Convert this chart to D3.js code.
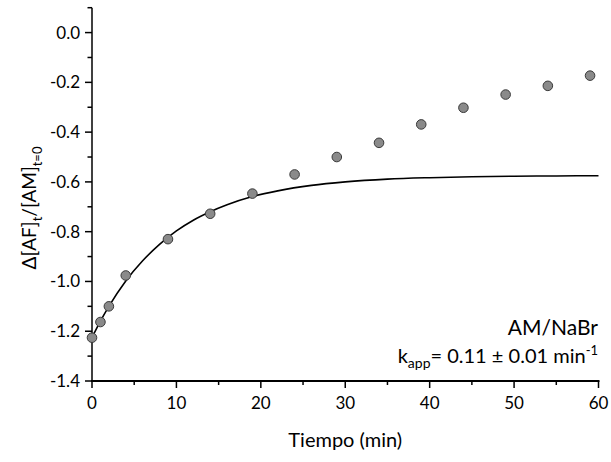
<!DOCTYPE html>
<html><head><meta charset="utf-8">
<script src="https://cdn.jsdelivr.net/npm/d3@7"></script>
<style>body{margin:0;background:#fff}svg{display:block}text{font-family:Lato,"Open Sans",sans-serif;fill:#000}</style>
</head><body><svg id="c" width="611" height="462"></svg>
<script>
// measured data points
const times = [0, 1, 2, 4, 9, 14, 19, 24, 29, 34, 39, 44, 49, 54, 59];
const values = [-1.226, -1.163, -1.100, -0.976, -0.830, -0.728, -0.647, -0.570, -0.500, -0.443, -0.369, -0.302, -0.249, -0.214, -0.173];
// fitted curve
const fitTimes = [0, 1, 2, 4, 6, 8, 10, 12, 14, 16, 19, 22, 26, 30, 35, 40, 45, 50, 55, 60];
const fitValues = [-1.225, -1.159, -1.100, -0.998, -0.917, -0.851, -0.797, -0.754, -0.720, -0.692, -0.659, -0.636, -0.614, -0.600, -0.589, -0.583, -0.579, -0.577, -0.576, -0.575];
const xTicks = [0, 10, 20, 30, 40, 50, 60];
const yTicks = [0.0, -0.2, -0.4, -0.6, -0.8, -1.0, -1.2, -1.4];
const seriesLabel = "AM/NaBr";

const svg = d3.select("#c");
const x = d3.scaleLinear().domain([0, 60]).range([92, 598.5]);
const y = d3.scaleLinear().domain([-1.4, 0.1]).range([381, 7.7]);

// minor ticks
const xMinor = d3.range(5, 60, 10);
const yMinor = d3.range(-13, 2, 2).map(v => v / 10);

const gx = svg.append("g").attr("transform", `translate(0,${y(-1.4)})`);
gx.append("line").attr("x1", x(0) - 1).attr("x2", x(60) + 1).attr("stroke", "#000").attr("stroke-width", 2);
gx.selectAll(".maj").data(xTicks).join("line").attr("x1", d => x(d)).attr("x2", d => x(d)).attr("y1", 0).attr("y2", 7).attr("stroke", "#000").attr("stroke-width", 1.5);
gx.selectAll(".min").data(xMinor).join("line").attr("class","min").attr("x1", d => x(d)).attr("x2", d => x(d)).attr("y1", 0).attr("y2", 4).attr("stroke", "#000").attr("stroke-width", 1.5);
gx.selectAll(".lab").data(xTicks).join("text").attr("class","lab").attr("x", d => x(d)).attr("y", 28).attr("text-anchor", "middle").attr("font-size", 17).text(d => d);

const gy = svg.append("g").attr("transform", `translate(${x(0)},0)`);
gy.append("line").attr("y1", y(0.1)).attr("y2", y(-1.4)).attr("stroke", "#000").attr("stroke-width", 1.5);
gy.selectAll(".maj").data(yTicks).join("line").attr("class","maj").attr("y1", d => y(d)).attr("y2", d => y(d)).attr("x1", 0).attr("x2", -7).attr("stroke", "#000").attr("stroke-width", 1.5);
gy.selectAll(".min").data(yMinor).join("line").attr("class","min").attr("y1", d => y(d)).attr("y2", d => y(d)).attr("x1", 0).attr("x2", -4.5).attr("stroke", "#000").attr("stroke-width", 1.5);
gy.selectAll(".lab").data(yTicks).join("text").attr("class","lab").attr("x", -12).attr("y", d => y(d)).attr("dy", "0.35em").attr("text-anchor", "end").attr("font-size", 17).text(d => d3.format(".1f")(d).replace("−","-"));

// fitted line
const fit = fitTimes.map((t, i) => [t, fitValues[i]]);
svg.append("path").datum(fit).attr("fill", "none").attr("stroke", "#000").attr("stroke-width", 1.6)
  .attr("d", d3.line().x(d => x(d[0])).y(d => y(d[1])).curve(d3.curveMonotoneX));

// points
const pts = times.map((t, i) => [t, values[i]]);
svg.selectAll(".pt").data(pts).join("circle").attr("class","pt").attr("cx", d => x(d[0])).attr("cy", d => y(d[1])).attr("r", 4.8)
  .attr("fill", "#8a8a8a").attr("stroke", "#3a3a3a").attr("stroke-width", 1);

// axis titles
svg.append("text").attr("x", (x(0) + x(60)) / 2).attr("y", 447).attr("text-anchor", "middle").attr("font-size", 20).text("Tiempo (min)");
const yl = svg.append("text").attr("transform", "translate(36,208) rotate(-90)").attr("text-anchor", "middle").attr("font-size", 19);
yl.append("tspan").text("Δ[AF]");
yl.append("tspan").attr("font-size", 13).attr("dy", 6).text("t");
yl.append("tspan").attr("dy", -6).text("/[AM]");
yl.append("tspan").attr("font-size", 13).attr("dy", 6).text("t=0");

// annotation
svg.append("text").attr("x", 598).attr("y", 335).attr("text-anchor", "end").attr("font-size", 21).text(seriesLabel);
const k = svg.append("text").attr("x", 598).attr("y", 363).attr("text-anchor", "end").attr("font-size", 20);
k.append("tspan").text("k");
k.append("tspan").attr("font-size", 14).attr("dy", 5).text("app");
k.append("tspan").attr("dy", -5).text("= 0.11 ± 0.01 min");
k.append("tspan").attr("font-size", 13).attr("dy", -8).text("-1");
</script></body></html>
